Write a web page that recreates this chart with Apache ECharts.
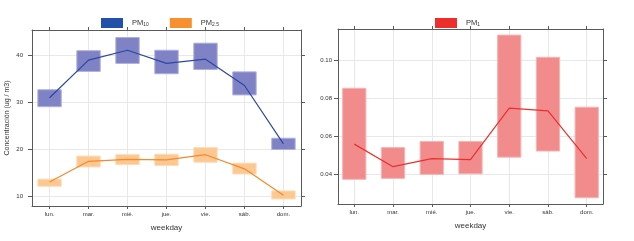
<!DOCTYPE html>
<html><head><meta charset="utf-8">
<script src="https://cdn.jsdelivr.net/npm/echarts@6/dist/echarts.min.js"></script>
<style>html,body{margin:0;padding:0;background:#fff}#c{width:634px;height:241px}</style>
</head><body><div id="c"></div>
<script>
const categories = ['lun.','mar.','mié.','jue.','vie.','sáb.','dom.'];
const pm10Mean = [30.9, 38.9, 41.0, 38.2, 39.1, 33.5, 21.1];
const pm10Low  = [29.0, 36.5, 38.2, 36.0, 36.9, 31.5, 19.9];
const pm10High = [32.6, 40.9, 43.7, 41.0, 42.5, 36.4, 22.3];
const pm25Mean = [13.0, 17.4, 17.8, 17.7, 18.8, 15.8, 10.2];
const pm25Low  = [12.1, 16.2, 16.7, 16.5, 17.2, 14.7, 9.4];
const pm25High = [13.6, 18.5, 18.8, 18.9, 20.3, 17.0, 11.1];
const pm1Mean = [0.0560, 0.0442, 0.0484, 0.0479, 0.0748, 0.0734, 0.0484];
const pm1Low  = [0.0376, 0.0381, 0.0402, 0.0405, 0.0492, 0.0524, 0.0280];
const pm1High = [0.0852, 0.0542, 0.0574, 0.0574, 0.1130, 0.1014, 0.0753];
const leftTicks = [10, 20, 30, 40];
const rightTicks = [0.04, 0.06, 0.08, 0.10];

const catIdx = categories.map((c, i) => i);
const frame = '#5a5a5a';
const gridCol = '#e8e8e8';
const txt = '#333';

function boxSeries(name, lows, highs, fill, stroke, xi) {
  return {
    type: 'custom', name: name + '_box', xAxisIndex: xi, yAxisIndex: xi, z: 2,
    data: catIdx.map(i => [i, lows[i], highs[i]]),
    encode: {x: 0, y: [1, 2]},
    renderItem: (params, api) => {
      const x = api.value(0);
      const p1 = api.coord([x, api.value(2)]);
      const p2 = api.coord([x, api.value(1)]);
      const w = api.size([0.6, 0])[0];
      return {type: 'rect', shape: {x: p1[0] - w / 2, y: p1[1], width: w, height: p2[1] - p1[1]},
        style: {fill: fill, stroke: stroke, lineWidth: 1}};
    }
  };
}
function lineSeries(name, vals, lineCol, legendCol, xi) {
  return {
    type: 'line', name: name, xAxisIndex: xi, yAxisIndex: xi, z: 5,
    data: catIdx.map(i => [i, vals[i]]), symbol: 'none',
    itemStyle: {color: legendCol}, lineStyle: {color: lineCol, width: 1.2}
  };
}
function xAx(gi, min, max, pos, labels) {
  return {
    type: 'value', gridIndex: gi, min: min, max: max, position: pos,
    axisLine: {show: true, onZero: false, lineStyle: {color: frame, width: 1}},
    axisTick: {show: true, length: 3, customValues: catIdx, lineStyle: {color: frame}},
    axisLabel: {show: labels, customValues: catIdx, fontSize: 6, color: txt, margin: 5,
      formatter: v => categories[Math.round(v)]},
    splitLine: {show: labels, lineStyle: {color: gridCol, width: 1}},
    name: labels ? 'weekday' : '', nameLocation: 'middle', nameGap: 18,
    nameTextStyle: {fontSize: 8, color: txt}
  };
}
function yAx(gi, min, max, pos, labels, ticks, fmt, margin) {
  return {
    type: 'value', gridIndex: gi, min: min, max: max, position: pos,
    axisLine: {show: true, onZero: false, lineStyle: {color: frame, width: 1}},
    axisTick: {show: true, length: 4, customValues: ticks, lineStyle: {color: frame}},
    axisLabel: {show: labels, customValues: ticks, fontSize: 6, color: txt, margin: margin, formatter: fmt},
    splitLine: {show: labels, lineStyle: {color: gridCol, width: 1}}
  };
}
const legendRich = {
  m: {fontSize: 7.5, color: txt, padding: [0, 0, 0, 4]},
  s: {fontSize: 5, color: txt, verticalAlign: 'bottom', padding: [4, 0, 0, 0]}
};
const legFmt = n => n === 'PM10' ? '{m|PM}{s|10}' : n === 'PM2.5' ? '{m|PM}{s|2.5}' : '{m|PM}{s|1}';

const option = {
  animation: false,
  backgroundColor: '#fff',
  grid: [
    {left: 32, top: 30, width: 269, height: 176},
    {left: 338, top: 29, width: 265, height: 175}
  ],
  legend: [
    {data: ['PM10', 'PM2.5'], left: 96, top: 13, itemWidth: 22, itemHeight: 10, itemGap: 21, icon: 'rect',
      formatter: legFmt, textStyle: {rich: legendRich}},
    {data: ['PM1'], left: 430, top: 13, itemWidth: 22, itemHeight: 10, icon: 'rect',
      formatter: legFmt, textStyle: {rich: legendRich}}
  ],
  xAxis: [
    xAx(0, -0.45, 6.45, 'bottom', true),
    xAx(0, -0.45, 6.45, 'top', false),
    xAx(1, -0.42, 6.42, 'bottom', true),
    xAx(1, -0.42, 6.42, 'top', false)
  ],
  yAxis: [
    yAx(0, 7.9, 45.3, 'left', true, leftTicks, v => String(v), 9),
    yAx(0, 7.9, 45.3, 'right', false, leftTicks, null, 8),
    yAx(1, 0.0247, 0.1162, 'left', true, rightTicks, v => v.toFixed(2), 6),
    yAx(1, 0.0247, 0.1162, 'right', false, rightTicks, null, 8)
  ],
  graphic: [{
    type: 'text', x: 7, y: 118, rotation: Math.PI / 2,
    style: {text: 'Concentración (ug / m3)', fontSize: 7, fill: txt, align: 'center', verticalAlign: 'middle'}
  }],
  series: [
    boxSeries('PM10', pm10Low, pm10High, '#7f82c4', '#aeb0dc', 0),
    boxSeries('PM2.5', pm25Low, pm25High, '#fcc891', '#fddbb6', 0),
    lineSeries('PM10', pm10Mean, '#2b48a3', '#2350a8', 0),
    lineSeries('PM2.5', pm25Mean, '#f5892b', '#f7902e', 0),
    boxSeries('PM1', pm1Low, pm1High, '#f28c8c', '#f7b3b3', 2),
    lineSeries('PM1', pm1Mean, '#e8312f', '#ee2d2d', 2)
  ]
};
echarts.init(document.getElementById('c'), null, {renderer: 'canvas'}).setOption(option);
</script></body></html>
